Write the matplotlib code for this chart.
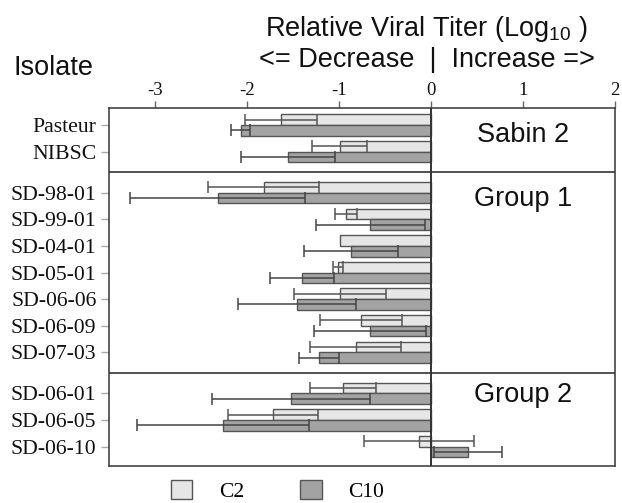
import numpy as np
import matplotlib
matplotlib.use("Agg")
import matplotlib.pyplot as plt
from matplotlib.patches import Patch

isolates = ['Pasteur', 'NIBSC', 'SD-98-01', 'SD-99-01', 'SD-04-01', 'SD-05-01',
            'SD-06-06', 'SD-06-09', 'SD-07-03', 'SD-06-01', 'SD-06-05', 'SD-06-10']
group_idx = [0, 0, 1, 1, 1, 1, 1, 1, 1, 2, 2, 2]
group_names = ['Sabin 2', 'Group 1', 'Group 2']
c2 = [-1.63, -0.99, -1.82, -0.92, -0.99, -1.01, -0.99, -0.76, -0.82, -0.96, -1.72, -0.13]
c2_err = [0.39, 0.30, 0.60, 0.12, 0.0, 0.055, 0.50, 0.45, 0.49, 0.36, 0.49, 0.60]
c10 = [-2.07, -1.55, -2.32, -0.66, -0.87, -1.40, -1.46, -0.66, -1.22, -1.52, -2.26, 0.40]
c10_err = [0.10, 0.51, 0.95, 0.59, 0.51, 0.35, 0.64, 0.61, 0.215, 0.86, 0.93, 0.37]
xticks = [-3, -2, -1, 0, 1, 2]

plt.rcParams['mathtext.fontset'] = 'custom'
plt.rcParams['mathtext.rm'] = 'Liberation Sans'
plt.rcParams['mathtext.it'] = 'Liberation Sans'

SANS = 'Liberation Sans'
SERIF = 'Liberation Serif'
EDGE = '#555555'
LIGHT = '#e6e6e6'
DARK = '#a3a3a3'

fig = plt.figure(figsize=(6.22, 5.03), dpi=100)
ax = fig.add_axes([0.1752, 0.0736, 0.9887 - 0.1752, 0.7847 - 0.0736])

gi = np.array(group_idx)
pos = np.arange(len(isolates)) + 0.55 * gi
h = 0.4
c2a = np.array(c2); c10a = np.array(c10)
c2e = np.array(c2_err); c10e = np.array(c10_err)

ax.barh(pos - h / 2, c2a, height=h, color=LIGHT, edgecolor=EDGE, linewidth=1.0, zorder=2)
ax.barh(pos + h / 2, c10a, height=h, color=DARK, edgecolor=EDGE, linewidth=1.0, zorder=2)

m = c2e > 0
ax.errorbar(c2a[m], (pos - h / 2)[m], xerr=c2e[m], fmt='none', ecolor='#555555',
            elinewidth=1.1, capsize=4, capthick=1.1, zorder=3)
m = c10e > 0
ax.errorbar(c10a[m], (pos + h / 2)[m], xerr=c10e[m], fmt='none', ecolor='#444444',
            elinewidth=1.1, capsize=4, capthick=1.1, zorder=3)

ax.axvline(0, color='#333333', lw=1.4, zorder=4)

# separators and group labels
ngroups = len(group_names)
first = [pos[gi == g].min() for g in range(ngroups)]
last = [pos[gi == g].max() for g in range(ngroups)]
for g in range(1, ngroups):
    ax.axhline((last[g - 1] + first[g]) / 2, color='#333333', lw=1.2, zorder=4)
label_off = [0.63, 0.48, 0.31]
for g in range(ngroups):
    ax.text(1.0, first[g] + label_off[g], group_names[g], ha='center', va='baseline',
            fontsize=19.5, family=SANS, color='#111111')

ax.set_xlim(-3.5, 2)
ax.set_ylim(pos.max() + 0.73, -0.63)
ax.set_yticks(pos)
ax.set_yticklabels(isolates, family=SERIF, fontsize=15.7, color='#111111')
ax.set_xticks(xticks)
ax.set_xticklabels([str(t) for t in xticks], family=SERIF, fontsize=13.5, color='#111111')
ax.xaxis.tick_top()
ax.tick_params(axis='x', direction='out', length=5, width=1, color='#666666', pad=1.5)
ax.tick_params(axis='y', direction='out', length=6, width=1, color='#aaaaaa', pad=3)
for s in ax.spines.values():
    s.set_color('#444444')
    s.set_linewidth(1.2)

fig.text(14 / 622, 1 - 75 / 503, 'Isolate', ha='left', va='baseline',
         fontsize=19.5, family=SANS, color='#111111')
fig.text(426.6 / 622, 1 - 36 / 503, r'Relative Viral Titer (Log$_{\mathregular{10}}$ )', ha='center',
         va='baseline', fontsize=19.5, family=SANS, color='#111111')
fig.text(426.6 / 622, 1 - 66.7 / 503, '<= Decrease  |  Increase =>', ha='center',
         va='baseline', fontsize=19.5, family=SANS, color='#111111')

handles = [Patch(facecolor=LIGHT, edgecolor=EDGE, linewidth=1.0, label='C2'),
           Patch(facecolor=DARK, edgecolor=EDGE, linewidth=1.0, label='C10')]
fig.legend(handles=handles, loc='center', bbox_to_anchor=(0.446, 1 - 491 / 503),
           ncol=2, frameon=False, prop={'family': SERIF, 'size': 15.5},
           handlelength=1.0, handleheight=1.0, handletextpad=1.24,
           columnspacing=2.6, borderpad=0, borderaxespad=0)

fig.savefig('out.png', dpi=100)
